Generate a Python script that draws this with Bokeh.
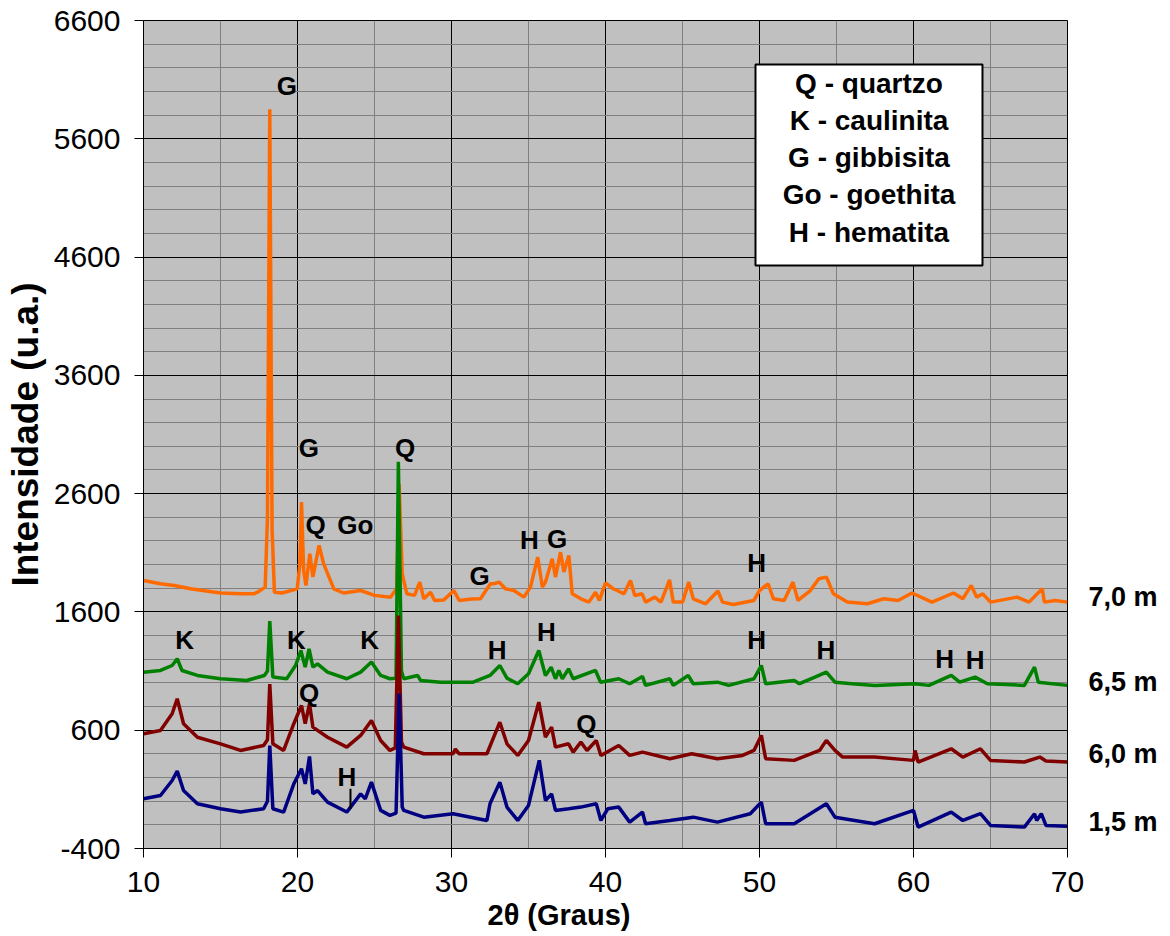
from bokeh.plotting import figure
from bokeh.models import Range1d, FixedTicker, PrintfTickFormatter, LinearAxis, Title
from bokeh.core.properties import value
from bokeh.embed import file_html
from bokeh.resources import INLINE

FONT = "Liberation Sans"

# ---------------- data ----------------
# 7,0 m  (orange)
x_70 = [10.0, 11.1, 12.0, 13.05, 15.0, 16.3, 17.16, 17.4, 17.9, 18.05, 18.2, 18.35, 18.5,
        19.0, 19.98, 20.15, 20.26, 20.4, 20.55, 20.8, 21.0, 21.4, 21.7, 22.36, 23.0, 24.1,
        25.0, 26.04, 26.45, 26.6, 26.8, 27.1, 27.6, 27.94, 28.2, 28.64, 28.9, 29.5, 30.15,
        30.5, 31.3, 31.88, 32.53, 32.75, 33.1, 33.5, 34.05, 34.7, 35.13, 35.6, 35.9, 36.1,
        36.54, 36.75, 37.08, 37.3, 37.62, 37.84, 38.4, 38.92, 39.35, 39.6, 40.0, 40.5, 40.76,
        41.2, 41.62, 41.9, 42.38, 42.6, 43.2, 43.6, 44.16, 44.4, 45.0, 45.41, 45.7, 46.5,
        47.3, 47.6, 48.3, 49.63, 50.0, 50.56, 50.9, 51.6, 52.17, 52.5, 53.3, 53.85, 54.35,
        54.8, 55.7, 57.0, 58.07, 59.0, 59.9, 61.2, 62.6, 63.2, 63.75, 64.1, 64.5, 65.0,
        66.73, 67.5, 68.36, 68.5, 69.2, 70.0]
y_70 = [1866, 1838, 1824, 1796, 1760, 1753, 1753, 1767, 1810, 2400, 5850, 2300, 1767,
        1760, 1795, 2000, 2528, 1950, 1824, 2092, 1895, 2162, 2006, 1795, 1760, 1781,
        1740, 1725, 1800, 2683, 1922, 1753, 1740, 1852, 1711, 1767, 1697, 1700, 1781,
        1697, 1710, 1711, 1838, 1838, 1852, 1796, 1781, 1725, 1810, 2063, 1810, 1852,
        2049, 1895, 2105, 1937, 2077, 1753, 1711, 1683, 1767, 1697, 1845, 1796, 1781,
        1753, 1866, 1739, 1753, 1683, 1725, 1683, 1872, 1683, 1683, 1852, 1711, 1669,
        1777, 1683, 1663, 1697, 1781, 1838, 1711, 1697, 1852, 1697, 1781, 1880, 1894,
        1753, 1683, 1669, 1711, 1697, 1760, 1683, 1760, 1711, 1824, 1725, 1753, 1683,
        1725, 1683, 1796, 1683, 1697, 1683]

# 6,5 m  (green)
x_65 = [10.0, 11.1, 11.86, 12.19, 12.5, 13.5, 15.0, 16.7, 17.85, 18.05, 18.2, 18.4, 19.3,
        19.87, 20.22, 20.5, 20.75, 21.0, 21.3, 21.95, 23.2, 24.1, 24.8, 25.4, 26.0, 26.4,
        26.55, 26.75, 26.9, 27.8, 28.0, 29.3, 31.4, 32.5, 33.14, 33.6, 34.3, 35.0, 35.67,
        36.1, 36.47, 36.75, 36.97, 37.2, 37.6, 37.9, 39.35, 39.68, 40.86, 41.57, 42.4, 42.6,
        44.18, 44.4, 45.37, 45.7, 47.27, 48.0, 49.64, 50.12, 50.4, 52.25, 52.6, 53.6, 54.34,
        54.9, 56.0, 57.5, 60.08, 61.0, 62.45, 63.0, 64.0, 64.8, 67.2, 67.86, 68.1, 70.0]
y_65 = [1091, 1105, 1147, 1204, 1105, 1063, 1035, 1020, 1063, 1100, 1522, 1049, 1035,
        1147, 1274, 1133, 1288, 1133, 1161, 1091, 1035, 1091, 1176, 1063, 1035, 1040,
        2870, 1100, 1035, 1063, 1020, 1006, 1006, 1063, 1147, 1040, 993, 1077, 1274,
        1063, 1133, 1035, 1105, 1035, 1119, 1035, 1105, 1006, 1035, 993, 1055, 979,
        1035, 979, 1063, 993, 1006, 979, 1035, 1147, 993, 1020, 993, 1049, 1091,
        1006, 993, 979, 993, 979, 1063, 1006, 1049, 993, 979, 1133, 1006, 979]

# 6,0 m  (dark red)
x_60 = [10.0, 11.1, 11.86, 12.19, 12.6, 13.5, 15.0, 16.3, 17.8, 18.05, 18.2, 18.4, 19.1,
        19.76, 20.26, 20.5, 20.78, 21.0, 21.95, 23.2, 24.1, 24.8, 25.4, 26.0, 26.35, 26.55,
        26.75, 26.9, 28.2, 30.1, 30.25, 30.5, 32.3, 33.14, 33.6, 34.3, 35.0, 35.67, 36.1,
        36.5, 36.75, 37.6, 37.9, 38.4, 38.8, 39.4, 39.7, 40.86, 41.57, 42.4, 44.18, 45.6,
        47.27, 48.9, 49.64, 50.12, 50.4, 52.25, 53.9, 54.34, 54.9, 55.4, 57.47, 60.0, 60.1,
        60.3, 62.45, 63.2, 64.35, 65.0, 67.2, 68.2, 68.6, 70.0]
y_60 = [570, 598, 739, 866, 655, 541, 485, 429, 471, 520, 990, 485, 429,
        655, 809, 655, 824, 626, 541, 457, 556, 682, 513, 429, 450, 1570,
        500, 457, 401, 401, 440, 400, 401, 668, 485, 387, 513, 837, 541,
        626, 457, 485, 415, 499, 429, 513, 387, 471, 387, 415, 359, 401,
        359, 387, 429, 556, 359, 345, 429, 514, 429, 373, 373, 345, 429,
        331, 443, 373, 443, 345, 331, 373, 340, 331]

# 1,5 m  (navy)
x_15 = [10.0, 11.1, 11.86, 12.19, 12.6, 13.5, 15.0, 16.3, 17.8, 18.05, 18.2, 18.4, 19.1,
        19.76, 20.26, 20.5, 20.78, 21.0, 21.3, 21.95, 23.2, 24.1, 24.4, 24.8, 25.4, 26.0,
        26.4, 26.6, 26.8, 26.9, 28.2, 30.1, 32.3, 32.5, 33.14, 33.6, 34.3, 35.0, 35.7,
        36.1, 36.5, 36.75, 37.6, 38.4, 39.4, 39.7, 40.15, 40.86, 41.57, 42.4, 42.6, 44.18,
        45.7, 47.27, 49.4, 50.12, 50.4, 52.25, 54.34, 54.9, 57.47, 60.0, 60.3, 62.45, 63.2,
        64.35, 65.0, 67.2, 67.86, 68.0, 68.3, 68.6, 70.0]
y_15 = [20, 48, 175, 254, 90, -22, -64, -92, -64, 0, 471, -64, -92,
        146, 274, 146, 378, 62, 90, -8, -92, 62, 20, 161, -78, -120,
        -100, 910, -50, -78, -135, -106, -163, -22, 161, -50, -163, -36, 345,
        6, 62, -78, -64, -50, -22, -163, -64, -50, -177, -92, -191, -163,
        -135, -177, -106, -8, -191, -191, -22, -135, -191, -78, -219, -92, -163,
        -106, -205, -219, -106, -163, -106, -205, -212]

series_names = ["7,0 m", "6,5 m", "6,0 m", "1,5 m"]
series_colors = ["#FF6A00", "#008000", "#800000", "#000080"]
series_label_y = [1725, 1006, 401, -177]

# phase labels on the peaks
peak_txt = ["G", "G", "Q", "Q", "Go", "H", "G", "G", "H",
            "K", "K", "K", "H", "H", "H", "H", "H", "H",
            "Q", "Q", "H"]
peak_x = [19.31, 20.73, 26.98, 21.17, 23.75, 35.06, 36.86, 31.82, 49.82,
          12.67, 19.92, 24.69, 32.97, 36.16, 49.82, 54.31, 62.03, 64.0,
          20.75, 38.75, 23.21]
peak_y = [6050, 2986, 2990, 2331, 2331, 2204, 2213, 1902, 2014,
          1359, 1359, 1359, 1274, 1429, 1359, 1274, 1198, 1190,
          915, 649, 203]

legend_lines = ["Q - quartzo", "K - caulinita", "G - gibbisita", "Go - goethita", "H - hematita"]

x_ticks = [10, 20, 30, 40, 50, 60, 70]
x_minor = [15, 25, 35, 45, 55, 65]
y_ticks = [-400, 600, 1600, 2600, 3600, 4600, 5600, 6600]
y_minor = [v for v in range(-400, 6601, 200) if v not in y_ticks]

# ---------------- figure ----------------
W, H = 1168, 934
p = figure(width=W, height=H, x_range=Range1d(10, 70), y_range=Range1d(-400, 6600),
           output_backend="svg", toolbar_location=None)
p.min_border_left = 143
p.min_border_right = W - 1067
p.min_border_top = 20
p.min_border_bottom = H - 848
p.background_fill_color = "#C0C0C0"
p.border_fill_color = "white"
p.outline_line_color = "black"
p.outline_line_width = 1

p.xaxis.ticker = FixedTicker(ticks=x_ticks, minor_ticks=x_minor)
p.yaxis.ticker = FixedTicker(ticks=y_ticks, minor_ticks=y_minor)
p.yaxis.formatter = PrintfTickFormatter(format="%d")

for g in (p.xgrid[0], p.ygrid[0]):
    g.grid_line_color = "#000000"
    g.grid_line_width = 1
    g.minor_grid_line_color = "#808080"
    g.minor_grid_line_width = 1

for ax in (p.xaxis[0], p.yaxis[0]):
    ax.major_label_text_font = FONT
    ax.major_label_text_font_size = "30px"
    ax.major_label_text_color = "black"
    ax.axis_label_text_font = FONT
    ax.axis_label_text_font_style = "bold"
    ax.axis_label_text_color = "black"
    ax.major_tick_out = 9
    ax.major_tick_in = 0
    ax.minor_tick_out = 0
    ax.minor_tick_in = 0
    ax.axis_line_color = "black"
    ax.major_tick_line_color = "black"

p.yaxis.axis_label = "Intensidade (u.a.)"
p.yaxis.axis_label_text_font_size = "37px"
p.xaxis.major_label_standoff = 14
p.yaxis.major_label_standoff = 14
p.yaxis.axis_label_standoff = 5

# x-axis title (placed left of centre as in the reference)
p.add_layout(Title(text="2θ (Graus)", align="left", offset=344, text_font=FONT,
                   text_font_size="29px", text_font_style="bold", text_color="black",
                   standoff=4), "below")

# depth labels at the right as an unlined axis
right_ax = LinearAxis(ticker=FixedTicker(ticks=series_label_y),
                      major_label_overrides={v: n for v, n in zip(series_label_y, series_names)},
                      axis_line_color=None, major_tick_line_color=None,
                      minor_tick_line_color=None, major_tick_out=0, major_tick_in=0,
                      major_label_standoff=21, major_label_text_font=FONT,
                      major_label_text_font_size="27px", major_label_text_font_style="bold",
                      major_label_text_color="black")
p.add_layout(right_ax, "right")

# curves
for xs, ys, col in [(x_70, y_70, series_colors[0]), (x_65, y_65, series_colors[1]),
                    (x_60, y_60, series_colors[2]), (x_15, y_15, series_colors[3])]:
    p.line(xs, ys, line_color=col, line_width=3.5)

# small marker tick under the lower "H"
p.segment(x0=[23.44], y0=[-64], x1=[23.44], y1=[105], line_color="black", line_width=2)

# peak labels
p.text(x=peak_x, y=peak_y, text=peak_txt, text_font=value(FONT), text_font_size="26px",
       text_font_style="bold", text_align="center", text_baseline="middle", text_color="black")

# legend box
p.quad(left=[49.74], right=[64.48], bottom=[4529], top=[6228], fill_color="white",
       line_color="black", line_width=2)
leg_y = [6067, 5755, 5442, 5129, 4808]
p.text(x=[57.11] * len(legend_lines), y=leg_y, text=legend_lines, text_font=value(FONT),
       text_font_size="28px", text_font_style="bold", text_align="center",
       text_baseline="middle", text_color="black")

open("out.html", "w").write(file_html(p, INLINE))
